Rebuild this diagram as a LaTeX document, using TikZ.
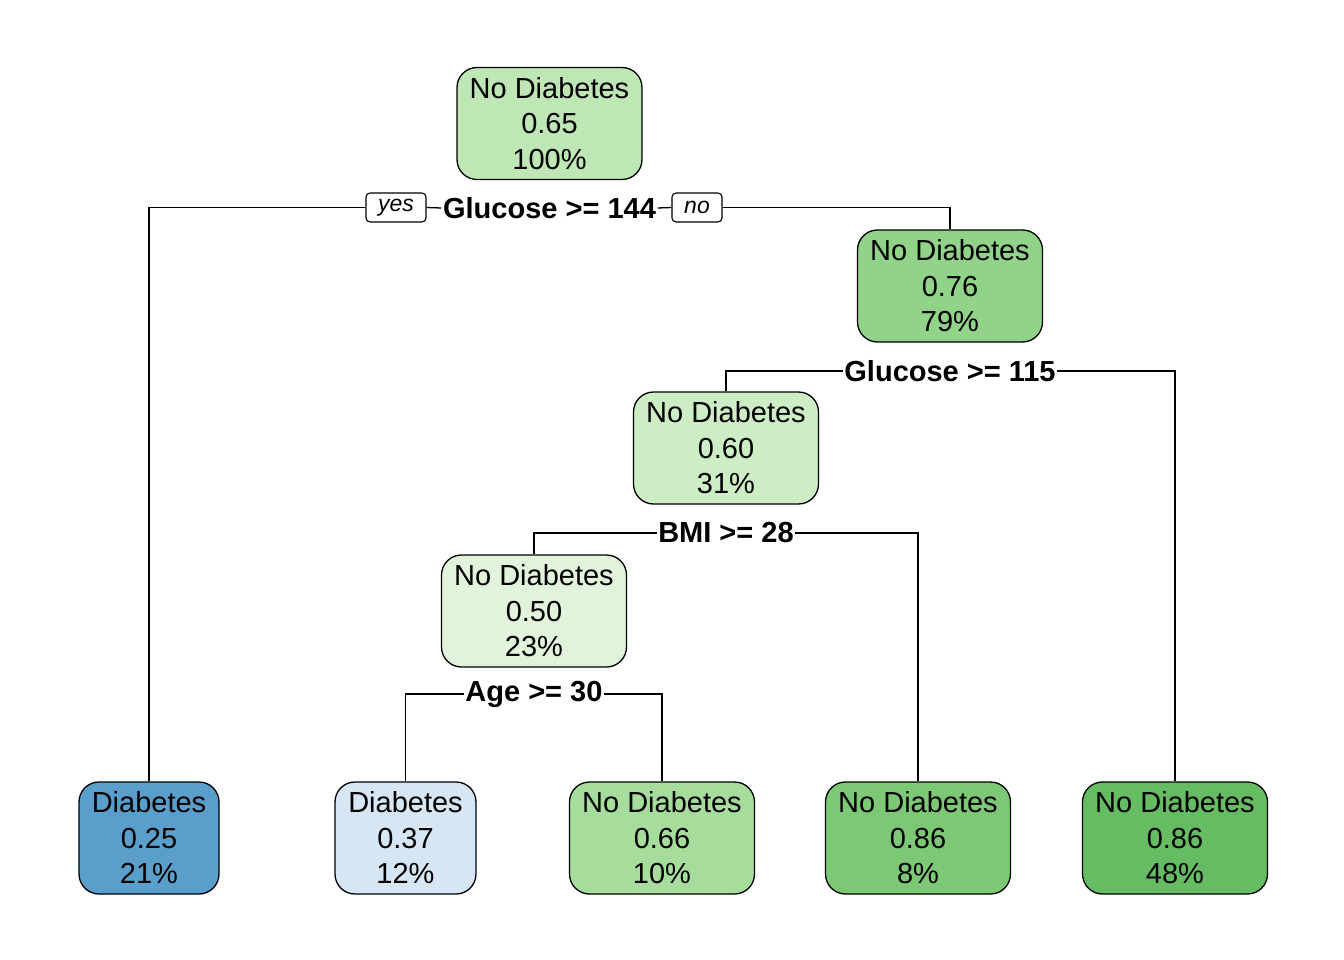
\documentclass[tikz,border=0pt]{standalone}
\usepackage{fontspec}
\setmainfont{Liberation Sans}
\begin{document}
\begin{tikzpicture}[x=1pt,y=-1pt,
  tnode/.style={draw=black,line width=1.3pt,rounded corners=20pt,minimum width=185pt,minimum height=112pt,inner sep=0pt,align=center,font=\fontsize{29}{35.5}\selectfont},
  leafn/.style={tnode,minimum width=140pt},
  split/.style={inner sep=1.5pt,font=\bfseries\fontsize{29}{30}\selectfont},
  tag/.style={draw=black,line width=1.1pt,rounded corners=4pt,minimum width=60pt,minimum height=29pt,inner sep=0pt,font=\itshape\fontsize{23}{24}\selectfont},
  edge/.style={line width=1.3pt}]
\definecolor{cRoot}{HTML}{BFE6B5}
\definecolor{cTwo}{HTML}{91D388}
\definecolor{cThree}{HTML}{CDEDC5}
\definecolor{cFour}{HTML}{E2F3DC}
\definecolor{cLa}{HTML}{5A9FCB}
\definecolor{cLb}{HTML}{D6E6F4}
\definecolor{cLc}{HTML}{A7DD9C}
\definecolor{cLd}{HTML}{7CC874}
\definecolor{cLe}{HTML}{66BC62}
\useasboundingbox (0,0) rectangle (1344,960);
% internal nodes
\node[tnode,fill=cRoot] (root) at (549.5,123.5) {No Diabetes\\0.65\\100\%};
\node[tnode,fill=cTwo] (n2) at (950,286) {No Diabetes\\0.76\\79\%};
\node[tnode,fill=cThree] (n3) at (726,448) {No Diabetes\\0.60\\31\%};
\node[tnode,fill=cFour] (n4) at (534,611) {No Diabetes\\0.50\\23\%};
% leaves
\node[leafn,fill=cLa] (l1) at (149,838) {Diabetes\\0.25\\21\%};
\node[leafn,fill=cLb,minimum width=141pt] (l2) at (405.5,838) {Diabetes\\0.37\\12\%};
\node[tnode,fill=cLc] (l3) at (662,838) {No Diabetes\\0.66\\10\%};
\node[tnode,fill=cLd] (l4) at (918,838) {No Diabetes\\0.86\\8\%};
\node[tnode,fill=cLe] (l5) at (1175,838) {No Diabetes\\0.86\\48\%};
% split labels
\node[split] (s1) at (549.5,208) {Glucose >= 144};
\node[split] (s2) at (950,371) {Glucose >= 115};
\node[split] (s3) at (726,533) {BMI >= 28};
\node[split] (s4) at (534,694) {Age >= 30};
\node[tag] (yes) at (396,207.5) {yes};
\node[tag,minimum width=50pt] (no) at (697,207.5) {no};
% connectors
\draw[edge] (l1.north) |- (yes.west);
\draw[edge] (yes.east) -- (s1.west);
\draw[edge] (s1.east) -- (no.west);
\draw[edge] (no.east) -| (n2.north);
\draw[edge] (n3.north) |- (s2.west);
\draw[edge] (s2.east) -| (l5.north);
\draw[edge] (n4.north) |- (s3.west);
\draw[edge] (s3.east) -| (l4.north);
\draw[edge] (l2.north) |- (s4.west);
\draw[edge] (s4.east) -| (l3.north);
\end{tikzpicture}
\end{document}
